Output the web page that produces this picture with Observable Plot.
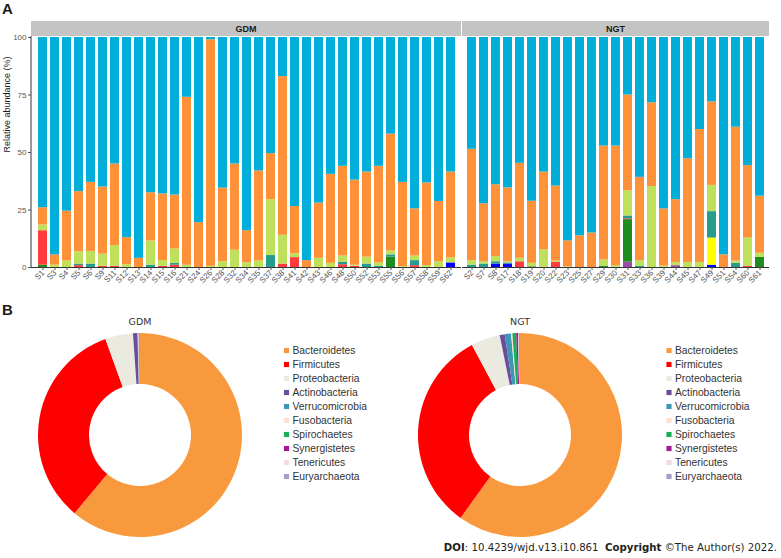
<!DOCTYPE html>
<html>
<head>
<meta charset="utf-8">
<script src="https://cdn.jsdelivr.net/npm/d3@7"></script>
<script src="https://cdn.jsdelivr.net/npm/@observablehq/plot@0.6"></script>
<style>
  html, body { margin: 0; padding: 0; background: #fff; }
  #root { position: relative; width: 781px; height: 558px; overflow: hidden; font-family: "Liberation Sans", Arial, sans-serif; }
  .abs { position: absolute; }
  .plabel { font-weight: bold; font-size: 15px; line-height: 15px; color: #231815; }
  #caption { right: 4px; top: 541px; font-family: "DejaVu Sans", Verdana, sans-serif; font-size: 10.2px; line-height: 13px; color: #231f20; white-space: nowrap; }
</style>
</head>
<body>
<div id="root"></div>
<script>
// ---------------- Panel A data ----------------
const samplesGDM = ["S1","S3","S4","S5","S6","S9","S11","S12","S13","S14","S15","S16","S21","S24","S26","S28","S32","S34","S35","S37","S38","S41","S42","S43","S46","S48","S50","S52","S53","S55","S56","S57","S58","S59","S62"];
const samplesNGT = ["S2","S7","S8","S17","S18","S19","S20","S22","S23","S25","S27","S29","S30","S31","S33","S36","S39","S44","S45","S47","S49","S51","S54","S60","S61"];

// stacked bottom -> top; the top (sky blue) segment is the remainder to 100 %
const barSeries = ["Synergistetes","Fusobacteria","Spirochaetes","Cyanobacteria","Actinobacteria","Verrucomicrobia","Proteobacteria","Firmicutes","Bacteroidetes"];
const barColors = ["#9B4DA8","#0000FF","#FFFF00","#1E8C1E","#FF3B3B","#279C8C","#BEE05B","#FF9238","#00AED9"];

// values (%) — GDM samples (35) followed by NGT samples (25)
const purpleVals = [0,0,0,0,0,0,0,0,0,0, 0,0,0,0,0,0,0,0,0,0, 0,0,0,0,0,0,0,0,0,0, 0,0,0,0,0,
                    0,0,0,0,0, 0,0,0,0,0, 0,0,0,2.3,0, 0,0,0.8,0,0, 0,0,0,0,0];
const blueVals   = [0,0,0,0,0,0,0,0,0,0, 0,0,0,0,0,0,0,0,0,0, 0,0,0,0,0,0,0,0,0,0, 0,0,0,0,2,
                    0,0,1.5,1.5,0, 0,0,0,0,0, 0,0,0,0,0, 0,0,0,0,0, 1,0,0,0,0];
const yellowVals = [0,0,0,0,0,0,0,0,0,0, 0,0,0,0,0,0,0,0,0,0, 0,0,0,0,0,0,0,0,0,0, 0,0,0,0,0,
                    0,0,0,0,0, 0,0,0,0,0, 0,0,0,0,0, 0,0,0,0,0, 11.8,0,0,0,0];
const dgreenVals = [1,0,0,0,0,0,0,0,0,0, 0,0,0,0,0,0,0,0,0,0, 0,0,0,0,0,0,0,0,0,4.5, 0,0,0,0,0,
                    0,0,0,0,0, 0.3,0,0,0,0, 0,0.5,0,18.5,0, 0,0,0,0,0, 0,0,0,0,4.4];
const redVals    = [15,0,0,0.8,0,0.5,0.5,0,0,0, 0.5,1,0,0,0,0,0,0,0,0, 1.5,4.3,0,0,0,1.2,0.5,0,0,0, 0,0.8,0,0,0,
                    0,0,0,0,2.5, 0,0,2.2,0,0, 0,0,0,0.4,0, 0,0,0,0,0, 0,0,0,0.5,0];
const tealVals   = [0,0,0,0.7,1.5,0,0,0,0,1, 0,0.8,0,0,0,0,0,0,0,5.2, 0,0,0,0,0,1,0,1.5,0.5,1, 0,2.2,0,0,0,
                    1,1.5,1,0.5,0, 0,0,0,0,0, 0,0,0,1.2,0.5, 0,0,0,0,0, 11.5,0,1.8,0,0];
const lgreenVals = [2.5,1,2.8,5.3,5.5,5.3,9,1.2,0,10.5, 2.5,6.2,1,0,0.5,2.5,7.5,2,2.8,24.3, 12.5,1.7,0,4,1.8,2.8,0.5,3,1.5,1.7, 0.3,2,0.8,2.5,2.2,
                    1.9,1,2.3,0.5,1.5, 1.5,7.6,0.6,0.3,0, 0,2.8,0.8,11,2.5, 35.2,0.6,1.4,2.2,2.2, 11.4,0,1,12.3,1.8];
const orangeVals = [7.5,4.5,21.7,26.2,30,29.2,35.5,11.8,4,21, 29,23.5,73,19.5,98.5,32,37.5,14,39.2,20, 69,20.5,3,24,38.7,39,37,37,42,50.8, 36.7,20.5,36,26.2,37.3,
                    48.5,25.2,31.2,32.1,41.3, 27,33.9,32.6,11.3,13.8, 15,49.5,52,41.6,36.2, 36.4,24.9,27.3,45.1,57.8, 36.3,5.5,58.2,31.5,24.8];
const yTicks = [0, 25, 50, 75, 100];

// ---------------- Panel B data ----------------
const phyla = ["Bacteroidetes","Firmicutes","Proteobacteria","Actinobacteria","Verrucomicrobia","Fusobacteria","Spirochaetes","Synergistetes","Tenericutes","Euryarchaeota"];
const pieColors = ["#F8993D","#FF0000","#EBEAE0","#6B4E9B","#3D97B5","#FCE3D1","#1BAF54","#A61990","#F4DCDC","#A69CC8"];
const gdmShares = [61.1, 33.4, 4.4, 0.7, 0.05, 0.05, 0.02, 0.01, 0.05, 0.22];
const ngtShares = [59.9, 32.3, 4.6, 0.8, 1.0, 0.2, 0.6, 0.3, 0.1, 0.2];

// ---------------- build rows ----------------
const segArrays = [purpleVals, blueVals, yellowVals, dgreenVals, redVals, tealVals, lgreenVals, orangeVals];
const allSamples = samplesGDM.concat(samplesNGT);
const rows = [];
allSamples.forEach((s, i) => {
  let sum = 0;
  const group = i < samplesGDM.length ? "GDM" : "NGT";
  segArrays.forEach((arr, k) => {
    const v = arr[i];
    sum += v;
    if (v > 0) rows.push({sample: s, series: barSeries[k], value: v, group});
  });
  rows.push({sample: s, series: barSeries[8], value: 100 - sum, group});
});

const root = document.getElementById("root");
function place(node, left, top, width) {
  const d = document.createElement("div");
  d.className = "abs";
  d.style.left = left + "px"; d.style.top = top + "px";
  if (width) d.style.width = width + "px";
  d.appendChild(node);
  root.appendChild(d);
  return d;
}

function strip(label) {
  return (index, scales, values, dims) => {
    const g = d3.create("svg:g");
    const x0 = dims.marginLeft, x1 = dims.width - dims.marginRight;
    g.append("rect").attr("x", x0).attr("y", dims.marginTop - 16).attr("width", x1 - x0).attr("height", 15).attr("fill", "#C4C4C4");
    g.append("text").attr("x", (x0 + x1) / 2).attr("y", dims.marginTop - 8.5)
      .attr("text-anchor", "middle").attr("dominant-baseline", "central")
      .attr("font-weight", "bold").attr("font-size", 9).attr("fill", "#1a1a1a").text(label);
    return g.node();
  };
}
function leftLine() {
  return (index, scales, values, dims) => {
    const l = d3.create("svg:line")
      .attr("x1", dims.marginLeft).attr("x2", dims.marginLeft)
      .attr("y1", dims.marginTop - 1).attr("y2", dims.height - dims.marginBottom)
      .attr("stroke", "#333").attr("stroke-width", 1);
    return l.node();
  };
}

const baseStyle = {background: "transparent", overflow: "visible", maxWidth: "none", fontFamily: "'Liberation Sans', Arial, sans-serif"};

function barPlot(samples, group, width, mLeft, mRight, withY) {
  const data = rows.filter(d => d.group === group);
  const marks = [
    Plot.barY(data, {x: "sample", y: "value", fill: "series"}),
    Plot.ruleY([0], {stroke: "#333", strokeWidth: 1}),
    Plot.axisX({tickRotate: -45, fontSize: 8, tickSize: 3, tickPadding: 1, color: "#555", label: null}),
    strip(group)
  ];
  if (withY) {
    marks.push(
      Plot.axisY({ticks: yTicks, tickSize: 3, tickPadding: 2, fontSize: 8, color: "#555", label: null}),
      Plot.text(["Relative abundance (%)"], {frameAnchor: "left", rotate: -90, dx: -24, fontSize: 9, fill: "#1a1a1a"}),
      leftLine()
    );
  }
  return Plot.plot({
    width, height: 290,
    marginLeft: mLeft, marginRight: mRight, marginTop: 37, marginBottom: 23,
    x: {domain: samples, paddingInner: 0.25, paddingOuter: 0.225, axis: null},
    y: {domain: [0, 100], axis: null},
    color: {domain: barSeries, range: barColors},
    style: baseStyle,
    marks
  });
}

place(barPlot(samplesGDM, "GDM", 462, 31, 1, true), 0, 0, 462);
place(barPlot(samplesNGT, "NGT", 339, 20, 12, false), 442, 0, 339);

function donutPlot(title, shares, cx, legendX) {
  const data = phyla.map((p, i) => ({phylum: p, value: shares[i]}));
  const arcs = (index, scales, values, dims) => {
    const color = scales.color || d3.scaleOrdinal(phyla, pieColors);
    const g = d3.create("svg:g").attr("transform", `translate(${cx},135)`);
    const pie = d3.pie().sort(null).value(d => d.value)(data);
    const arc = d3.arc().innerRadius(51).outerRadius(102);
    g.selectAll("path").data(pie).join("path").attr("d", arc).attr("fill", d => color(d.data.phylum));
    g.append("text").attr("x", 0).attr("y", -110).attr("text-anchor", "middle")
      .attr("font-size", 9.5).attr("fill", "#333").attr("font-family", "'DejaVu Sans', sans-serif").text(title);
    return g.node();
  };
  return Plot.plot({
    width: 390, height: 250,
    marginLeft: legendX, marginRight: 5, marginTop: 50, marginBottom: 73.3,
    y: {type: "point", domain: phyla, padding: 0, axis: null},
    color: {domain: phyla, range: pieColors},
    style: baseStyle,
    marks: [
      arcs,
      Plot.dot(phyla, {y: d => d, frameAnchor: "left", symbol: "square", r: 2.9, fill: d => d}),
      Plot.text(phyla, {y: d => d, frameAnchor: "left", dx: 6, textAnchor: "start", fill: "#333", fontSize: 10.3})
    ]
  });
}

place(donutPlot("GDM", gdmShares, 140, 286), 0, 300, 390);
place(donutPlot("NGT", ngtShares, 130, 278.5), 390, 300, 391);

// panel letters & caption
const a = document.createElement("div"); a.className = "abs plabel"; a.style.left = "2px"; a.style.top = "1px"; a.textContent = "A"; root.appendChild(a);
const b = document.createElement("div"); b.className = "abs plabel"; b.style.left = "2px"; b.style.top = "302px"; b.textContent = "B"; root.appendChild(b);
const cap = document.createElement("div"); cap.className = "abs"; cap.id = "caption";
cap.innerHTML = "<b>DOI</b>: 10.4239/wjd.v13.i10.861&nbsp;&nbsp;<b>Copyright</b> ©The Author(s) 2022.";
root.appendChild(cap);
</script>
</body>
</html>
